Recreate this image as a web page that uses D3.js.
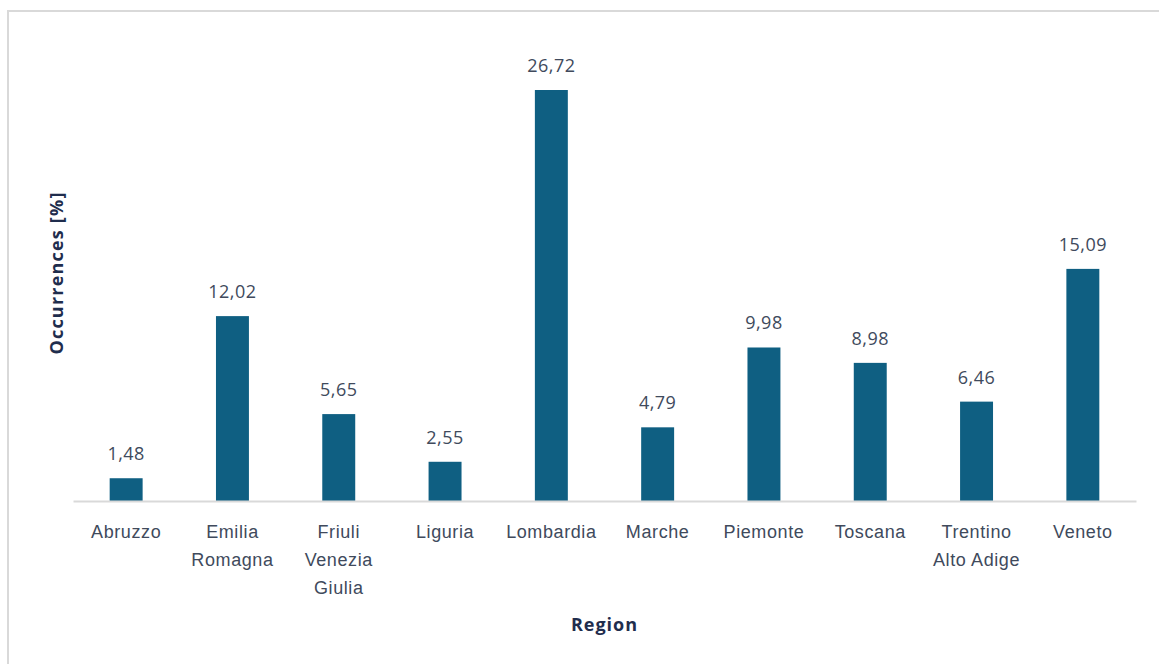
<!DOCTYPE html>
<html>
<head>
<meta charset="utf-8">
<script src="https://cdn.jsdelivr.net/npm/d3@7"></script>
<style>
  html, body { margin: 0; padding: 0; background: #fff; }
  svg { display: block; font-family: "Open Sans", "Noto Sans", sans-serif; }
</style>
</head>
<body>
<svg id="chart" width="1159" height="664"></svg>
<script>
// Share of occurrences by Italian region
const regions = ["Abruzzo", "Emilia Romagna", "Friuli Venezia Giulia", "Liguria", "Lombardia",
                 "Marche", "Piemonte", "Toscana", "Trentino Alto Adige", "Veneto"];
const regionLines = [["Abruzzo"], ["Emilia", "Romagna"], ["Friuli", "Venezia", "Giulia"], ["Liguria"],
                     ["Lombardia"], ["Marche"], ["Piemonte"], ["Toscana"], ["Trentino", "Alto Adige"], ["Veneto"]];
const occurrences = [1.48, 12.02, 5.65, 2.55, 26.72, 4.79, 9.98, 8.98, 6.46, 15.09];

const svg = d3.select("#chart");
const W = 1159, H = 664;
const margin = { left: 73, right: 23, top: 90, bottom: 163 };
const baseY = H - margin.bottom; // 501

// Outer frame (extends past the right and bottom edges)
svg.append("rect")
  .attr("x", 8).attr("y", 11)
  .attr("width", W + 10).attr("height", H + 10)
  .attr("fill", "none").attr("stroke", "#d9d9d9").attr("stroke-width", 2);

const x = d3.scaleBand()
  .domain(regions)
  .range([margin.left, W - margin.right])
  .paddingInner(0.69).paddingOuter(0.345);

const y = d3.scaleLinear()
  .domain([0, 26.72])
  .range([baseY, margin.top]);

const fmt = v => d3.format(".2f")(v).replace(".", ",");

// Bars
svg.append("g").selectAll("rect")
  .data(occurrences)
  .join("rect")
  .attr("x", (d, i) => x(regions[i]))
  .attr("y", d => y(d))
  .attr("width", x.bandwidth())
  .attr("height", d => baseY - y(d))
  .attr("fill", "#0f5f82");

// Value labels
svg.append("g").selectAll("text")
  .data(occurrences)
  .join("text")
  .attr("x", (d, i) => x(regions[i]) + x.bandwidth() / 2)
  .attr("y", d => y(d) - 18)
  .attr("text-anchor", "middle")
  .attr("font-size", 18)
  .attr("letter-spacing", 0.5)
  .attr("fill", "#404a5c")
  .text(d => fmt(d));

// Category axis
const xAxis = d3.axisBottom(x).tickSize(0).tickFormat("");
const gx = svg.append("g").attr("transform", `translate(0,${baseY})`).call(xAxis);
gx.select(".domain").attr("stroke", "#d9d9d9").attr("stroke-width", 2);

gx.selectAll(".tick").each(function(d, i) {
  const t = d3.select(this).append("text")
    .attr("text-anchor", "middle")
    .attr("font-size", 18)
    .attr("letter-spacing", 0.6)
    .attr("fill", "#404a5c");
  regionLines[i].forEach((line, k) => {
    t.append("tspan").attr("x", 0).attr("y", 37 + k * 28).text(line);
  });
});

// Axis titles
svg.append("text")
  .attr("x", (margin.left + W - margin.right) / 2)
  .attr("y", 631)
  .attr("text-anchor", "middle")
  .attr("font-size", 18).attr("font-weight", "bold")
  .attr("letter-spacing", 1)
  .attr("fill", "#1f2d4d")
  .text("Region");

svg.append("text")
  .attr("transform", `translate(63,${273}) rotate(-90)`)
  .attr("text-anchor", "middle")
  .attr("font-size", 18).attr("font-weight", "bold")
  .attr("letter-spacing", 1.2)
  .attr("fill", "#1f2d4d")
  .text("Occurrences [%]");
</script>
</body>
</html>
